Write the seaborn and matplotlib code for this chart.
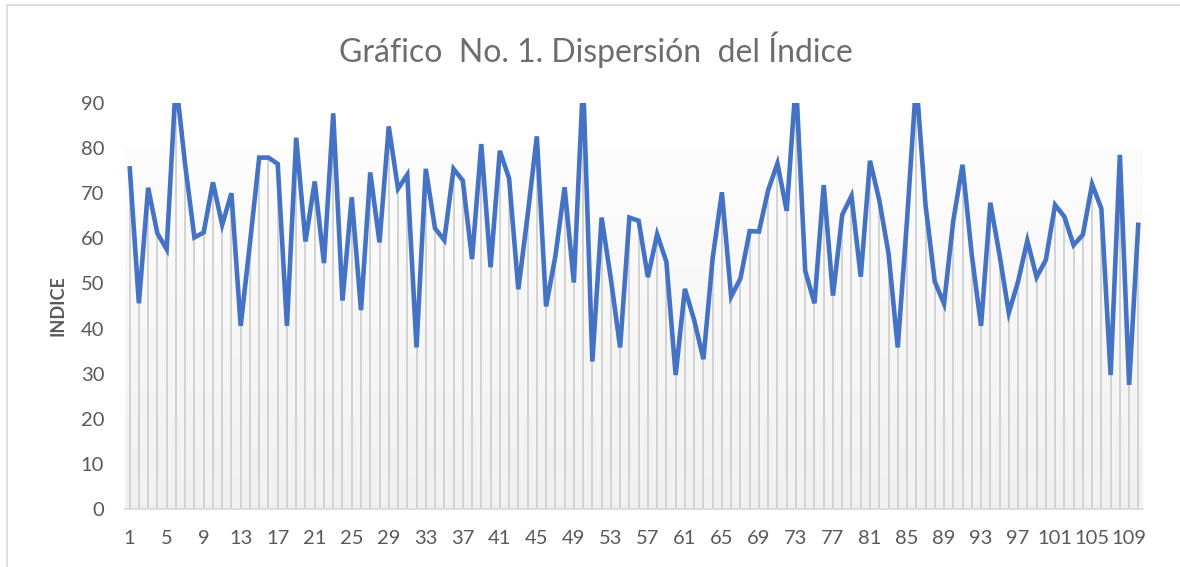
import numpy as np
import pandas as pd
import matplotlib
matplotlib.use("Agg")
import matplotlib.pyplot as plt
from matplotlib.lines import Line2D
from matplotlib.colors import LinearSegmentedColormap
import seaborn as sns

# ---- data ----
indices = list(range(1, 111))
values = [
    76.0, 45.6, 71.2, 61.1, 57.6, 95.0, 76.3, 60.2, 61.3, 72.4,
    63.0, 70.0, 40.6, 58.9, 77.9, 77.9, 76.5, 40.6, 82.3, 59.3,
    72.6, 54.5, 87.7, 46.2, 69.1, 44.1, 74.6, 59.1, 84.8, 71.0,
    74.1, 35.8, 75.4, 62.2, 59.6, 75.4, 72.8, 55.4, 80.9, 53.6,
    79.4, 73.3, 48.7, 65.0, 82.6, 44.9, 56.0, 71.3, 50.2, 95.0,
    32.7, 64.6, 51.0, 35.8, 64.6, 63.9, 51.4, 60.9, 54.8, 29.7,
    48.8, 41.9, 33.2, 55.6, 70.2, 47.1, 51.1, 61.6, 61.5, 70.7,
    76.6, 66.1, 95.0, 52.8, 45.6, 71.8, 47.3, 65.2, 69.4, 51.5,
    77.2, 68.5, 56.7, 35.8, 64.0, 95.0, 67.4, 50.4, 45.5, 63.9,
    76.3, 56.3, 40.6, 67.9, 56.3, 43.5, 50.4, 59.5, 51.4, 55.2,
    67.4, 64.8, 58.5, 60.8, 72.0, 66.6, 29.7, 78.5, 27.5, 63.5,
]
x_ticks = list(range(1, 110, 4))
y_ticks = list(range(0, 91, 10))
title = "Gráfico  No. 1. Dispersión  del Índice"
ylabel = "INDICE"

df = pd.DataFrame({"idx": indices, "val": values})

sns.set_style("white")
plt.rcParams["font.family"] = ["Lato", "DejaVu Sans"]

fig = plt.figure(figsize=(11.8, 5.67), dpi=100)
ax = fig.add_axes([125 / 1180, 1 - 509 / 567, (1143 - 125) / 1180, (509 - 103) / 567])

# gradient background in plot area
grad = np.linspace(0, 1, 256).reshape(-1, 1)
cmap = LinearSegmentedColormap.from_list("g", ["#f1f1f1", "#fdfdfd"])
ax.imshow(grad, extent=(0.5, 110.5, 0, 80), origin="lower", aspect="auto",
          cmap=cmap, zorder=0)

# drop lines
ax.vlines(df["idx"], 0, df["val"], color="#d3d3d3", lw=1.4, zorder=1)

sns.lineplot(data=df, x="idx", y="val", ax=ax, color="#4472C4", lw=3.3,
             zorder=3, solid_joinstyle="miter", solid_capstyle="butt")

ax.set_xlim(0.5, 110.5)
ax.set_ylim(0, 90)
ax.set_xticks(x_ticks)
ax.set_xticklabels([str(t) for t in x_ticks])
ax.set_yticks(y_ticks)
ax.tick_params(axis="both", length=0, labelsize=14.5, colors="#595959")
ax.tick_params(axis="x", pad=15)
ax.tick_params(axis="y", pad=15)
ax.set_xlabel("")
ax.set_ylabel(ylabel, fontsize=13, fontweight="bold", color="#595959", labelpad=10)

for s in ["top", "right", "left"]:
    ax.spines[s].set_visible(False)
ax.spines["bottom"].set_color("#d9d9d9")
ax.spines["bottom"].set_linewidth(1.2)
ax.set_facecolor("white")

fig.text(596 / 1180, 1 - 50 / 567, title, ha="center", va="center",
         fontsize=23, color="#6d6d6d")

# outer chart border (top and left visible)
fig.add_artist(Line2D([7 / 1180, 1.0], [1 - 5 / 567, 1 - 5 / 567],
                      transform=fig.transFigure, color="#d9d9d9", lw=1.2))
fig.add_artist(Line2D([7 / 1180, 7 / 1180], [0, 1 - 5 / 567],
                      transform=fig.transFigure, color="#d9d9d9", lw=1.2))

fig.savefig("out.png", dpi=100, facecolor="white")
